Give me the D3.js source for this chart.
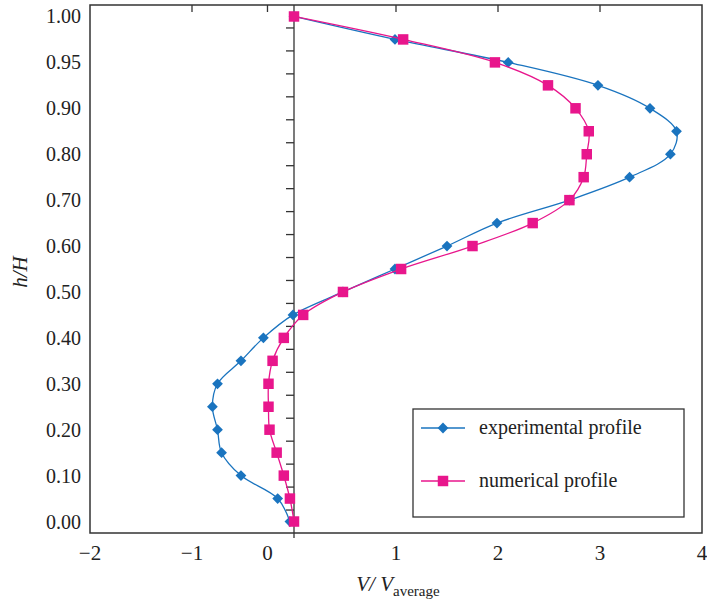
<!DOCTYPE html>
<html>
<head>
<meta charset="utf-8">
<script src="https://cdn.jsdelivr.net/npm/d3@7"></script>
<style>
  body { margin: 0; background: #fff; }
  text { font-family: "Liberation Serif", "DejaVu Serif", serif; fill: #222; }
</style>
</head>
<body>
<svg id="chart" width="707" height="603"></svg>
<script>
// h/H levels, top to bottom (plotted as evenly spaced rows)
var hValues = [1.00, 0.975, 0.95, 0.925, 0.90, 0.85, 0.80, 0.75, 0.70, 0.65, 0.60, 0.55,
               0.50, 0.45, 0.40, 0.35, 0.30, 0.25, 0.20, 0.15, 0.10, 0.05, 0.00];

var experimental = [0.00, 0.99, 2.10, 2.98, 3.49, 3.75, 3.69, 3.29, 2.70, 1.99, 1.50, 0.99,
                    0.48, -0.01, -0.30, -0.52, -0.75, -0.80, -0.75, -0.71, -0.52, -0.16, -0.04];

var numerical = [0.00, 1.07, 1.97, 2.49, 2.76, 2.89, 2.87, 2.84, 2.70, 2.34, 1.75, 1.05,
                 0.48, 0.09, -0.10, -0.21, -0.25, -0.25, -0.24, -0.17, -0.10, -0.04, 0.00];

// x ticks: the "0" tick is nudged left so it does not sit on the zero line
var xTickPos = [-2, -1, -0.26, 1, 2, 3, 4];
var xTickLabels = ["\u22122", "\u22121", "0", "1", "2", "3", "4"];

var svg = d3.select("#chart");
var pLeft = 90, pRight = 702, pTop = 5, pBottom = 533;

var x = d3.scaleLinear().domain([-2, 4]).range([pLeft, pRight]);
var y = d3.scaleLinear().domain([-0.5, hValues.length - 0.5]).range([pTop, pBottom]);

var blue = "#1a74bf", pink = "#e8168c";

// zero line with its minor ticks
svg.append("line")
  .attr("x1", x(0)).attr("x2", x(0))
  .attr("y1", pTop).attr("y2", pBottom + 5)
  .attr("stroke", "#333").attr("stroke-width", 1.3);

var halfRows = d3.range(0.5, hValues.length - 1, 1);
svg.append("g").selectAll("line")
  .data(halfRows)
  .enter().append("line")
    .attr("x1", x(0) - 8).attr("x2", x(0))
    .attr("y1", d => y(d)).attr("y2", d => y(d))
    .attr("stroke", "#333").attr("stroke-width", 1.3);

// top ticks
svg.append("g").selectAll("line")
  .data(xTickPos.slice(1, -1))
  .enter().append("line")
    .attr("x1", d => x(d)).attr("x2", d => x(d))
    .attr("y1", pTop).attr("y2", pTop + 7)
    .attr("stroke", "#333").attr("stroke-width", 1.3);

// series (diamond = square turned 45 degrees)
var series = [
  { name: "experimental profile", values: experimental, color: blue, size: 58, rot: 45 },
  { name: "numerical profile", values: numerical, color: pink, size: 110, rot: 0 }
];

var line = d3.line()
  .x(d => x(d.v))
  .y(d => y(d.i))
  .curve(d3.curveCatmullRom.alpha(0.5));

series.forEach(function (s) {
  var pts = s.values.map((v, i) => ({ v: v, i: i }));
  svg.append("path")
    .datum(pts)
    .attr("d", line)
    .attr("fill", "none")
    .attr("stroke", s.color)
    .attr("stroke-width", 1.3);
  svg.append("g").selectAll("path")
    .data(pts)
    .enter().append("path")
      .attr("d", d3.symbol().type(d3.symbolSquare).size(s.size))
      .attr("transform", d => "translate(" + x(d.v) + "," + y(d.i) + ") rotate(" + s.rot + ")")
      .attr("fill", s.color);
});

// frame
svg.append("rect")
  .attr("x", pLeft).attr("y", pTop)
  .attr("width", pRight - pLeft).attr("height", pBottom - pTop)
  .attr("fill", "none").attr("stroke", "#333").attr("stroke-width", 1.5);

// y labels (every other row)
svg.append("g").selectAll("text")
  .data(hValues.map((h, i) => ({ h: h, i: i })).filter(d => d.i % 2 == 0))
  .enter().append("text")
    .attr("x", pLeft - 9)
    .attr("y", d => y(d.i))
    .attr("dy", "0.35em")
    .attr("text-anchor", "end")
    .attr("font-size", 20)
    .text(d => d3.format(".2f")(d.h));

// x labels
svg.append("g").selectAll("text")
  .data(xTickPos)
  .enter().append("text")
    .attr("x", d => x(d))
    .attr("y", pBottom + 27)
    .attr("text-anchor", "middle")
    .attr("font-size", 21)
    .text((d, i) => xTickLabels[i]);

// axis titles
var xt = svg.append("text")
  .attr("x", 398).attr("y", 591)
  .attr("text-anchor", "middle")
  .attr("font-size", 21);
xt.append("tspan").attr("font-style", "italic").text("V/ V");
xt.append("tspan").attr("font-size", 15).attr("dy", 5).text("average");

svg.append("text")
  .attr("transform", "translate(27,272) rotate(-90)")
  .attr("text-anchor", "middle")
  .attr("font-size", 21)
  .attr("font-style", "italic")
  .text("h/H");

// legend
var lg = svg.append("g");
lg.append("rect")
  .attr("x", 413).attr("y", 409).attr("width", 271).attr("height", 108)
  .attr("fill", "#fff").attr("stroke", "#333").attr("stroke-width", 1.3);

series.forEach(function (s, k) {
  var ly = 428 + k * 53;
  lg.append("line")
    .attr("x1", 421).attr("x2", 465).attr("y1", ly).attr("y2", ly)
    .attr("stroke", s.color).attr("stroke-width", 1.3);
  lg.append("path")
    .attr("d", d3.symbol().type(d3.symbolSquare).size(s.size))
    .attr("transform", "translate(443," + ly + ") rotate(" + s.rot + ")")
    .attr("fill", s.color);
  lg.append("text")
    .attr("x", 479).attr("y", ly)
    .attr("dy", "0.3em")
    .attr("font-size", 20)
    .text(s.name);
});
</script>
</body>
</html>
